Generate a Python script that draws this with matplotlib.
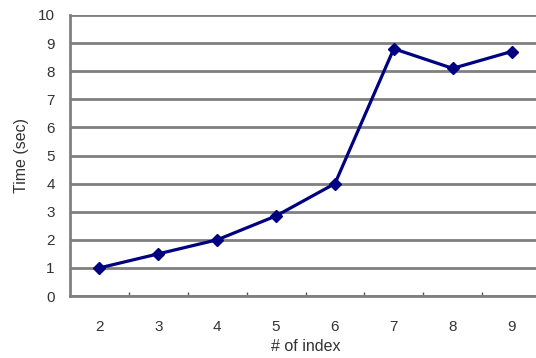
import matplotlib
matplotlib.use("Agg")
import matplotlib.pyplot as plt

categories = ["2", "3", "4", "5", "6", "7", "8", "9"]
times = [1.0, 1.5, 2.0, 2.85, 4.0, 8.8, 8.1, 8.7]
yticks = [0, 1, 2, 3, 4, 5, 6, 7, 8, 9, 10]

plt.rcParams['font.family'] = ['Liberation Sans', 'DejaVu Sans']

fig = plt.figure(figsize=(5.36, 3.58), dpi=100)
ax = fig.add_axes([70/536, 1-296/358, 471/536, 281/358])

x = list(range(len(categories)))
ax.plot(x, times, color='#000080', linewidth=2.3, marker='D', markersize=6.5, zorder=3)

ax.set_xlim(-0.5, len(categories) - 0.5)
ax.set_ylim(0, 10)
ax.set_yticks(yticks)
ax.set_yticklabels([str(v) for v in yticks])
ax.set_xticks(x)
ax.set_xticklabels(categories)
ax.set_xticks([i + 0.5 for i in range(len(categories) - 1)], minor=True)

ax.yaxis.grid(True, color='#808080', linewidth=2)
ax.set_axisbelow(True)
for s in ['top', 'right']:
    ax.spines[s].set_visible(False)
ax.spines['left'].set_color('#808080')
ax.spines['left'].set_linewidth(2)
ax.spines['bottom'].set_color('#808080')
ax.spines['bottom'].set_linewidth(2)

ax.tick_params(axis='y', length=0, pad=11, labelsize=11, labelcolor='#333333')
ax.tick_params(axis='x', which='major', length=0, pad=17, labelsize=11, labelcolor='#333333')
ax.tick_params(axis='x', which='minor', direction='in', length=3, width=1, color='#555555')

ax.set_ylabel("Time (sec)", fontsize=11.5, color='#333333', labelpad=6)
ax.set_xlabel("# of index", fontsize=11.5, color='#333333', labelpad=4)

fig.savefig("out.png", dpi=100)
